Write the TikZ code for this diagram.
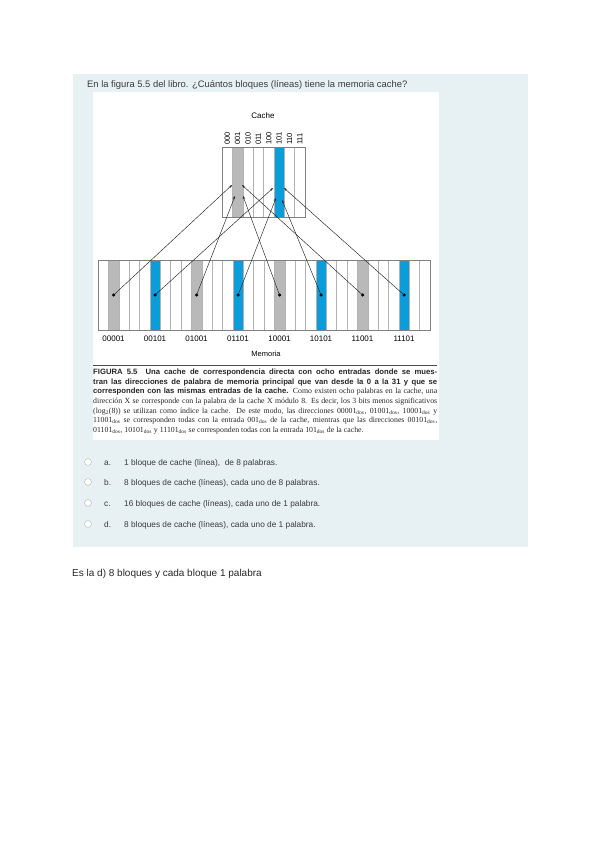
\documentclass[tikz,border=0pt]{standalone}
\usepackage{fontspec}
\setmainfont{Liberation Serif}
\setsansfont{Liberation Sans}
\usetikzlibrary{arrows.meta, positioning}

\definecolor{panelbg}{HTML}{E7F1F4}
\definecolor{cacheblue}{HTML}{0A9DD9}
\definecolor{textgray}{HTML}{3A3A3A}

\begin{document}
\begin{tikzpicture}[
    x=1pt, y=-1pt,
    cell/.style={
        draw=gray!60, line width=0.5pt,
        minimum width=10.375pt,
        minimum height=70pt,
        inner sep=0pt, outer sep=0pt
    },
    hit/.style={cell, fill=gray!55},
    hitb/.style={cell, fill=cacheblue},
    bits/.style={font=\sffamily\fontsize{7.5}{8}\selectfont, rotate=90, anchor=west, inner sep=0pt},
    addr/.style={font=\sffamily\fontsize{8}{9}\selectfont, anchor=base, inner sep=0pt},
    map/.style={-{Stealth[length=3.2pt,width=2.4pt]}, draw=gray!25!black, line width=0.45pt},
    dot/.style={circle, fill=black, inner sep=0pt, minimum size=3.4pt},
    opt/.style={font=\sffamily\fontsize{8.3}{10}\selectfont, text=textgray, anchor=base west, inner sep=0pt},
    radio/.style={circle, draw=gray!45, fill=white, line width=0.6pt, minimum size=7pt, inner sep=0pt}
]

\useasboundingbox (0,0) rectangle (599,848);

% ===== PANEL =====
\fill[panelbg] (73,74) rectangle (528,547);
\fill[white] (93,92) rectangle (439,440);

\node[font=\sffamily\fontsize{9.4}{11}\selectfont, text=textgray, anchor=base west, inner sep=0pt]
  (title) at (87,88) {En la figura 5.5 del libro. ¿Cuántos bloques (líneas) tiene la memoria cache?};

% ===== CACHE =====
\foreach \b [count=\i from 0] in {000,001,010,011,100,101,110,111}{
  \ifnum\i=1 \def\st{hit}\else\ifnum\i=5 \def\st{hitb}\else\def\st{cell}\fi\fi
  \node[\st] (c\i) at ({222+10.375*(\i+0.5)},182) {};
  \node[bits] (b\i) at ([yshift=2pt]c\i.north) {\b};
}
\draw[gray, line width=0.6pt] (c0.north west) rectangle (c7.south east);
\node[font=\sffamily\fontsize{8}{9}\selectfont, anchor=base] (cachelbl) at (263,118) {Cache};

% ===== MEMORY =====
\foreach \i in {0,...,31}{
  \pgfmathtruncatemacro{\r}{mod(\i,8)}
  \ifnum\r=1 \def\st{hit}\else\ifnum\r=5 \def\st{hitb}\else\def\st{cell}\fi\fi
  \node[\st] (m\i) at ({98+10.375*(\i+0.5)},295) {};
}
\draw[gray, line width=0.6pt] (m0.north west) rectangle (m31.south east);

\foreach \i/\a in {1/00001,5/00101,9/01001,13/01101,17/10001,21/10101,25/11001,29/11101}{
  \node[dot] (d\i) at (m\i) {};
  \node[addr] (l\i) at (m\i.center |- 0,341) {\a};
}
\node[font=\sffamily\fontsize{7.5}{8}\selectfont, anchor=base] (memlbl) at (266,356) {Memoria};

% ===== MAPPING ARROWS =====
\coordinate (a1) at (232,185);
\coordinate (a9) at (235,196);
\coordinate (a17) at (243,196);
\coordinate (a25) at (242,185);
\coordinate (a5) at (273,188);
\coordinate (a13) at (276,198);
\coordinate (a21) at (282,200);
\coordinate (a29) at (284,188);

\foreach \i in {1,5,9,13,17,21,25,29}
  \draw[map] (d\i.center) -- (a\i);

% ===== CAPTION =====
\draw[gray!60!black, line width=1pt] (93,365) -- (437,365);
\node[anchor=north west, inner sep=0pt, text width=344pt, align=justify,
      font=\fontsize{7.8}{9.6}\selectfont, text=black!85] (capt) at (93,369)
{{\sffamily\bfseries\fontsize{7.7}{9.6}\selectfont FIGURA 5.5\ \ Una cache de correspondencia directa con ocho entradas donde se mues-\linebreak
tran las direcciones de palabra de memoria principal que van desde la 0 a la 31 y que se\linebreak
corresponden con las mismas entradas de la cache.} Como existen ocho palabras en la cache, una\linebreak
dirección X se corresponde con la palabra de la cache X módulo 8. Es decir, los 3 bits menos significativos\linebreak
(log\textsubscript{2}(8)) se utilizan como índice la cache. De este modo, las direcciones 00001\textsubscript{dos}, 01001\textsubscript{dos}, 10001\textsubscript{dos} y\linebreak
11001\textsubscript{dos} se corresponden todas con la entrada 001\textsubscript{dos} de la cache, mientras que las direcciones 00101\textsubscript{dos},\linebreak
01101\textsubscript{dos}, 10101\textsubscript{dos} y 11101\textsubscript{dos} se corresponden todas con la entrada 101\textsubscript{dos} de la cache.};

% ===== OPTIONS =====
\foreach \k/\y/\t in {a/462/{1 bloque de cache (línea),\ \ de 8 palabras.},
                      b/482/{8 bloques de cache (líneas), cada uno de 8 palabras.},
                      c/503/{16 bloques de cache (líneas), cada uno de 1 palabra.},
                      d/524/{8 bloques de cache (líneas), cada uno de 1 palabra.}}{
  \node[radio] (r\k) at (88,\y) {};
  \node[opt] (k\k) at (104,\y+3) {\k.};
  \node[opt] (o\k) at (124,\y+3) {\t};
}

% ===== ANSWER =====
\node[font=\sffamily\fontsize{10}{12}\selectfont, text=black!85, anchor=base west, inner sep=0pt]
  (answer) at (72,576) {Es la d) 8 bloques y cada bloque 1 palabra};

\end{tikzpicture}
\end{document}
